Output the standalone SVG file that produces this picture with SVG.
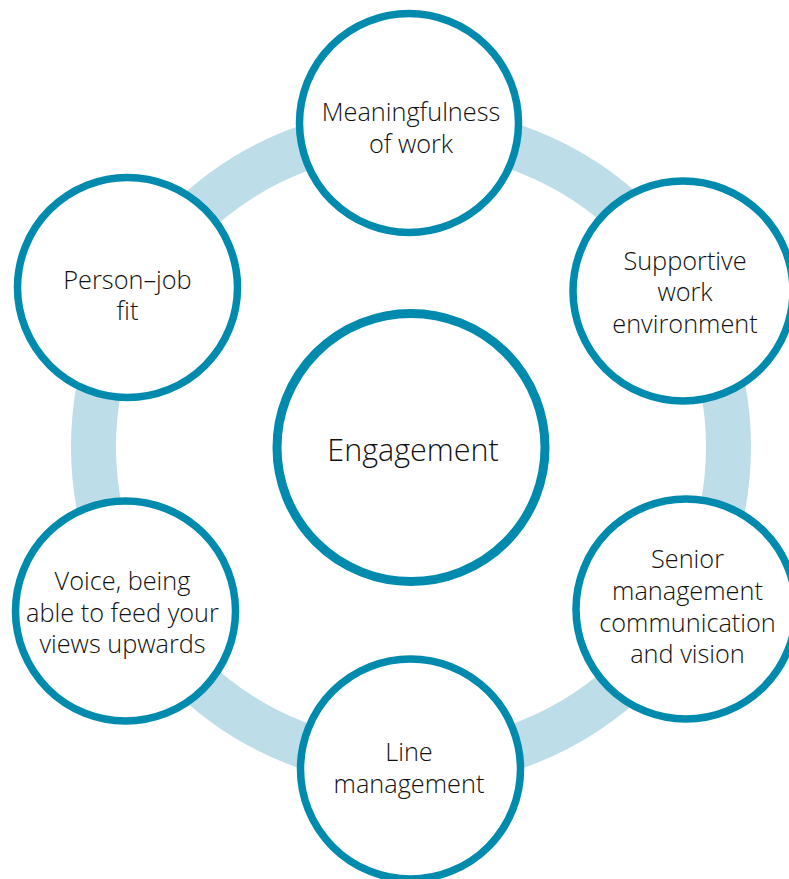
<svg xmlns="http://www.w3.org/2000/svg" width="789" height="879" viewBox="0 0 789 879">
<style>
.node{fill:#ffffff;stroke:#008bae;stroke-width:7.5}
.hub{fill:#ffffff;stroke:#008bae;stroke-width:9}
.lbl{font-family:"Open Sans","Noto Sans","Liberation Sans",sans-serif;font-size:25.3px;font-weight:300;fill:#111111;text-anchor:middle}
.big{font-size:30.5px}
</style>
<rect width="789" height="879" fill="#ffffff"/>
<g id="connectors">
<circle cx="411" cy="447" r="317.5" fill="none" stroke="#bddde8" stroke-width="45"/>
</g>
<g id="engagement">
<circle class="hub" cx="411" cy="447.5" r="134"/>
<text class="lbl big" x="413" y="461">Engagement</text>
</g>
<g id="meaningfulness">
<circle class="node" cx="409" cy="123" r="109.5"/>
<text class="lbl" x="411" y="121">Meaningfulness</text>
<text class="lbl" x="411" y="153">of work</text>
</g>
<g id="supportive">
<circle class="node" cx="683" cy="291" r="110"/>
<text class="lbl" x="685" y="270">Supportive</text>
<text class="lbl" x="685" y="301">work</text>
<text class="lbl" x="685" y="333">environment</text>
</g>
<g id="senior">
<circle class="node" cx="686" cy="609" r="110"/>
<text class="lbl" x="687.5" y="568">Senior</text>
<text class="lbl" x="687.5" y="600">management</text>
<text class="lbl" x="687.5" y="632">communication</text>
<text class="lbl" x="687.5" y="663">and vision</text>
</g>
<g id="line-management">
<circle class="node" cx="410.5" cy="769" r="110"/>
<text class="lbl" x="409" y="761">Line</text>
<text class="lbl" x="409" y="793">management</text>
</g>
<g id="voice">
<circle class="node" cx="125.5" cy="611" r="110"/>
<text class="lbl" x="122.5" y="590">Voice, being</text>
<text class="lbl" x="122.5" y="622">able to feed your</text>
<text class="lbl" x="122.5" y="653">views upwards</text>
</g>
<g id="person-job">
<circle class="node" cx="127.5" cy="287.5" r="110"/>
<text class="lbl" x="127.5" y="289">Person–job</text>
<text class="lbl" x="127.5" y="320">fit</text>
</g>
</svg>
